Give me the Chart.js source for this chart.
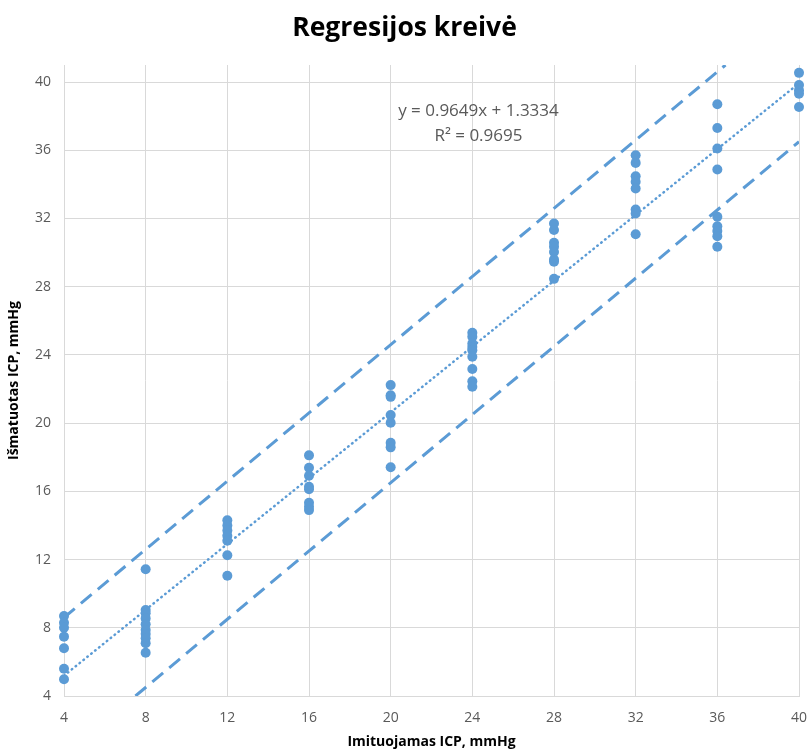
<!DOCTYPE html>
<html lang="lt">
<head>
<meta charset="UTF-8">
<title>Regresijos kreivė</title>
<script src="https://cdn.jsdelivr.net/npm/chart.js"></script>
<style>
    html, body { margin: 0; padding: 0; background: #fff; }
</style>
</head>
<body>
<canvas id="chart" width="809" height="750"></canvas>
<script>
    // simulated pressure levels (x) and the measured values at each level (y)
    const simulated = [4, 8, 12, 16, 20, 24, 28, 32, 36, 40];
    const measured = [
        [8.69, 8.30, 8.00, 7.48, 6.80, 5.60, 4.98],
        [11.43, 9.04, 8.85, 8.55, 8.20, 7.87, 7.63, 7.38, 7.09, 6.54],
        [14.30, 14.00, 13.70, 13.40, 13.10, 12.25, 11.05],
        [18.11, 17.38, 16.91, 16.27, 16.12, 15.33, 15.10, 14.90],
        [22.23, 21.64, 21.54, 20.47, 20.02, 18.85, 18.58, 17.41],
        [25.30, 25.06, 24.67, 24.47, 24.28, 23.89, 23.17, 22.46, 22.13],
        [31.71, 31.32, 30.57, 30.34, 30.04, 29.60, 29.46, 28.46],
        [35.71, 35.26, 34.48, 34.15, 33.76, 32.53, 32.29, 31.08],
        [38.70, 37.31, 36.10, 34.87, 32.10, 31.55, 31.26, 30.96, 30.34],
        [40.54, 39.82, 39.52, 39.32, 38.54]
    ];

    // linear fit
    const slope = 0.9649;
    const intercept = 1.3334;
    const rSquared = 0.9695;

    // upper / lower limit lines (end points)
    const upperLimit = [[4, 8.6], [36.4, 41]];
    const lowerLimit = [[7.5, 4], [40, 36.5]];

    const xTicks = [4, 8, 12, 16, 20, 24, 28, 32, 36, 40];
    const yTicks = [4, 8, 12, 16, 20, 24, 28, 32, 36, 40];

    const blue = '#5B9BD5';
    const tickGrey = '#595959';
    const gridGrey = '#d9d9d9';

    const points = [];
    simulated.forEach((x, i) => {
        measured[i].forEach(y => points.push({ x: x, y: y }));
    });

    const xFirst = simulated[0];
    const xLast = simulated[simulated.length - 1];
    const trend = [
        { x: xFirst, y: slope * xFirst + intercept },
        { x: xLast, y: slope * xLast + intercept }
    ];

    const toXY = arr => arr.map(p => ({ x: p[0], y: p[1] }));

    // regression equation label
    const equationLabel = {
        id: 'equationLabel',
        afterDatasetsDraw(chart) {
            const { ctx, scales } = chart;
            const cx = scales.x.getPixelForValue(24.3);
            ctx.save();
            ctx.fillStyle = tickGrey;
            ctx.font = '17px "Open Sans"';
            ctx.textAlign = 'center';
            ctx.textBaseline = 'middle';
            ctx.fillText('y = ' + slope.toFixed(4) + 'x + ' + intercept.toFixed(4), cx, scales.y.getPixelForValue(38.3));
            ctx.fillText('R² = ' + rSquared.toFixed(4), cx, scales.y.getPixelForValue(36.85));
            ctx.restore();
        }
    };

    new Chart(document.getElementById('chart'), {
        type: 'scatter',
        data: {
            datasets: [
                {
                    label: 'Matavimai',
                    data: points,
                    backgroundColor: blue,
                    borderColor: blue,
                    pointRadius: 5,
                    pointBorderWidth: 0,
                    clip: false,
                    order: 1
                },
                {
                    label: 'Tiesinė',
                    type: 'line',
                    data: trend,
                    borderColor: blue,
                    borderWidth: 2.5,
                    borderDash: [0.5, 4.5],
                    borderCapStyle: 'round',
                    pointRadius: 0,
                    fill: false,
                    order: 2
                },
                {
                    label: 'Viršutinė riba',
                    type: 'line',
                    data: toXY(upperLimit),
                    borderColor: blue,
                    borderWidth: 3,
                    borderDash: [14, 8],
                    pointRadius: 0,
                    fill: false,
                    order: 3
                },
                {
                    label: 'Apatinė riba',
                    type: 'line',
                    data: toXY(lowerLimit),
                    borderColor: blue,
                    borderWidth: 3,
                    borderDash: [14, 8],
                    pointRadius: 0,
                    fill: false,
                    order: 3
                }
            ]
        },
        options: {
            responsive: false,
            animation: false,
            layout: { padding: 0 },
            plugins: {
                legend: { display: false },
                tooltip: { enabled: false },
                title: {
                    display: true,
                    text: 'Regresijos kreivė',
                    color: '#000',
                    font: { family: '"Open Sans"', size: 26.5, weight: 'bold' },
                    padding: { top: 12.6, bottom: 20.6 }
                }
            },
            scales: {
                x: {
                    type: 'linear',
                    min: 4,
                    max: 40,
                    afterBuildTicks: s => { s.ticks = xTicks.map(v => ({ value: v })); },
                    afterFit: s => {
                        s.height = 54;
                        s.paddingLeft = 0;
                        s.paddingRight = 10;
                    },
                    ticks: {
                        color: tickGrey,
                        font: { family: '"Open Sans"', size: 14 },
                        padding: 14,
                        maxRotation: 0
                    },
                    grid: { color: gridGrey, drawTicks: false },
                    border: { color: gridGrey },
                    title: {
                        display: true,
                        text: 'Imituojamas ICP, mmHg',
                        color: '#000',
                        font: { family: '"Open Sans"', size: 14, weight: 'bold' },
                        padding: { top: 0, bottom: 0 }
                    }
                },
                y: {
                    type: 'linear',
                    min: 4,
                    max: 41,
                    afterBuildTicks: s => { s.ticks = yTicks.map(v => ({ value: v })); },
                    afterFit: s => { s.width = 64; },
                    ticks: {
                        color: tickGrey,
                        font: { family: '"Open Sans"', size: 14 },
                        padding: 13
                    },
                    grid: { color: gridGrey, drawTicks: false },
                    border: { color: gridGrey },
                    title: {
                        display: true,
                        text: 'Išmatuotas ICP, mmHg',
                        color: '#000',
                        font: { family: '"Open Sans"', size: 14, weight: 'bold' },
                        padding: { top: 6, bottom: 0 }
                    }
                }
            }
        },
        plugins: [equationLabel]
    });
</script>
</body>
</html>
